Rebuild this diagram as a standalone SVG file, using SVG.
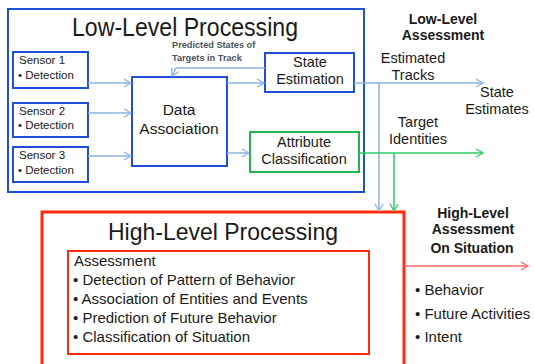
<svg xmlns="http://www.w3.org/2000/svg" width="534" height="364" viewBox="0 0 534 364">
<defs>
<style>
text{font-family:"Liberation Sans",Arial,sans-serif;fill:#1a1a1a}
.bx{fill:#fff;stroke:#1f4fd6;stroke-width:2}
.gbx{fill:#fff;stroke:#1fb64e;stroke-width:2}
.rbx{fill:#fff;stroke:#ff2a0a;stroke-width:3}
.rin{fill:none;stroke:#ff2a0a;stroke-width:2}
.lb{stroke:#8db3e2;stroke-width:1.5;fill:none}
.lg{stroke:#2ecc65;stroke-width:1.5;fill:none}
.lr{stroke:#ff6a6a;stroke-width:1.5;fill:none}
.ts{font-size:11.5px}
.tm{font-size:15px}
.tl{font-size:14.5px}
.tb{font-size:14px;font-weight:bold}
.sm{font-size:9.2px;font-weight:bold;fill:#4a5360}
</style>
<marker id="ab" markerWidth="10" markerHeight="10" refX="8" refY="5" orient="auto" markerUnits="userSpaceOnUse"><path d="M1,1 L8,5 L1,9" fill="none" stroke="#8db3e2" stroke-width="1.3"/></marker>
<marker id="ag" markerWidth="10" markerHeight="10" refX="8" refY="5" orient="auto" markerUnits="userSpaceOnUse"><path d="M1,1 L8,5 L1,9" fill="none" stroke="#2ecc65" stroke-width="1.3"/></marker>
<marker id="ar" markerWidth="10" markerHeight="10" refX="8" refY="5" orient="auto" markerUnits="userSpaceOnUse"><path d="M1,1 L8,5 L1,9" fill="none" stroke="#ff6a6a" stroke-width="1.3"/></marker>
</defs>
<rect width="534" height="364" fill="#fff"/>

<g id="low-level">
<rect x="8" y="9" width="356" height="183" fill="#fff" stroke="#1f4fd6" stroke-width="2"/>
<text x="185" y="36" font-size="25" text-anchor="middle" textLength="226" lengthAdjust="spacingAndGlyphs">Low-Level Processing</text>
</g>

<g id="sensor1">
<rect class="bx" x="13" y="52" width="75" height="36"/>
<text class="ts" x="19" y="64">Sensor 1</text>
<text class="ts" x="18" y="79">• Detection</text>
</g>
<g id="sensor2">
<rect class="bx" x="13" y="103" width="75" height="34"/>
<text class="ts" x="19" y="115">Sensor 2</text>
<text class="ts" x="18" y="129">• Detection</text>
</g>
<g id="sensor3">
<rect class="bx" x="13" y="147" width="75" height="35"/>
<text class="ts" x="19" y="159">Sensor 3</text>
<text class="ts" x="18" y="174">• Detection</text>
</g>

<g id="data-association">
<rect class="bx" x="132" y="77" width="95" height="89"/>
<text x="179" y="115" font-size="15.5" text-anchor="middle">Data</text>
<text x="179" y="134" font-size="15.5" text-anchor="middle">Association</text>
</g>

<g id="state-estimation">
<rect class="bx" x="265" y="53" width="89" height="39"/>
<text class="tl" x="310" y="67" text-anchor="middle">State</text>
<text class="tl" x="310" y="84" text-anchor="middle">Estimation</text>
</g>

<g id="attribute-classification">
<rect class="gbx" x="250" y="132" width="109" height="40"/>
<text class="tl" x="304" y="147" text-anchor="middle">Attribute</text>
<text class="tl" x="304" y="164" text-anchor="middle">Classification</text>
</g>

<g id="high-level">
<rect class="rbx" x="42" y="212" width="362" height="156"/>
<text x="223" y="240" font-size="24" text-anchor="middle" textLength="230" lengthAdjust="spacingAndGlyphs">High-Level Processing</text>
</g>

<g id="assessment">
<rect class="rin" x="68" y="251" width="301" height="103"/>
<text class="tm" x="74" y="266">Assessment</text>
<text class="tm" x="73" y="285">• Detection of Pattern of Behavior</text>
<text class="tm" x="73" y="304">• Association of Entities and Events</text>
<text class="tm" x="73" y="323">• Prediction of Future Behavior</text>
<text class="tm" x="73" y="342">• Classification of Situation</text>
</g>

<g id="labels">
<text class="sm" x="172" y="48">Predicted States of</text>
<text class="sm" x="172" y="61">Targets in Track</text>
<text class="tb" x="443" y="24" text-anchor="middle">Low-Level</text>
<text class="tb" x="443" y="40" text-anchor="middle">Assessment</text>
<text class="tl" x="413" y="63" text-anchor="middle">Estimated</text>
<text class="tl" x="413" y="80" text-anchor="middle">Tracks</text>
<text class="tl" x="497" y="97" text-anchor="middle">State</text>
<text class="tl" x="497" y="114" text-anchor="middle">Estimates</text>
<text class="tl" x="418" y="127" text-anchor="middle">Target</text>
<text class="tl" x="418" y="144" text-anchor="middle">Identities</text>
<text class="tb" x="473" y="218" text-anchor="middle">High-Level</text>
<text class="tb" x="473" y="234" text-anchor="middle">Assessment</text>
<text class="tb" x="472" y="253" text-anchor="middle">On Situation</text>
<text class="tm" x="415" y="295">• Behavior</text>
<text class="tm" x="415" y="319">• Future Activities</text>
<text class="tm" x="415" y="342">• Intent</text>
</g>

<g id="connectors">
<line class="lb" x1="88" y1="83" x2="131" y2="83" marker-end="url(#ab)"/>
<line class="lb" x1="88" y1="113" x2="131" y2="113" marker-end="url(#ab)"/>
<line class="lb" x1="88" y1="156" x2="131" y2="156" marker-end="url(#ab)"/>
<line class="lb" x1="227" y1="83" x2="264" y2="83" marker-end="url(#ab)"/>
<line class="lb" x1="227" y1="153" x2="249" y2="153" marker-end="url(#ab)"/>
<path class="lb" d="M265,68 L176,68 L172,76" marker-end="url(#ab)"/>
<line class="lb" x1="354" y1="83" x2="483" y2="83" marker-end="url(#ab)"/>
<line class="lb" x1="379" y1="83" x2="379" y2="211" marker-end="url(#ab)"/>
<line class="lg" x1="359" y1="153" x2="483" y2="153" marker-end="url(#ag)"/>
<line class="lg" x1="394" y1="153" x2="394" y2="211" marker-end="url(#ag)"/>
<line class="lr" x1="404" y1="266" x2="528" y2="266" marker-end="url(#ar)"/>
</g>
</svg>
